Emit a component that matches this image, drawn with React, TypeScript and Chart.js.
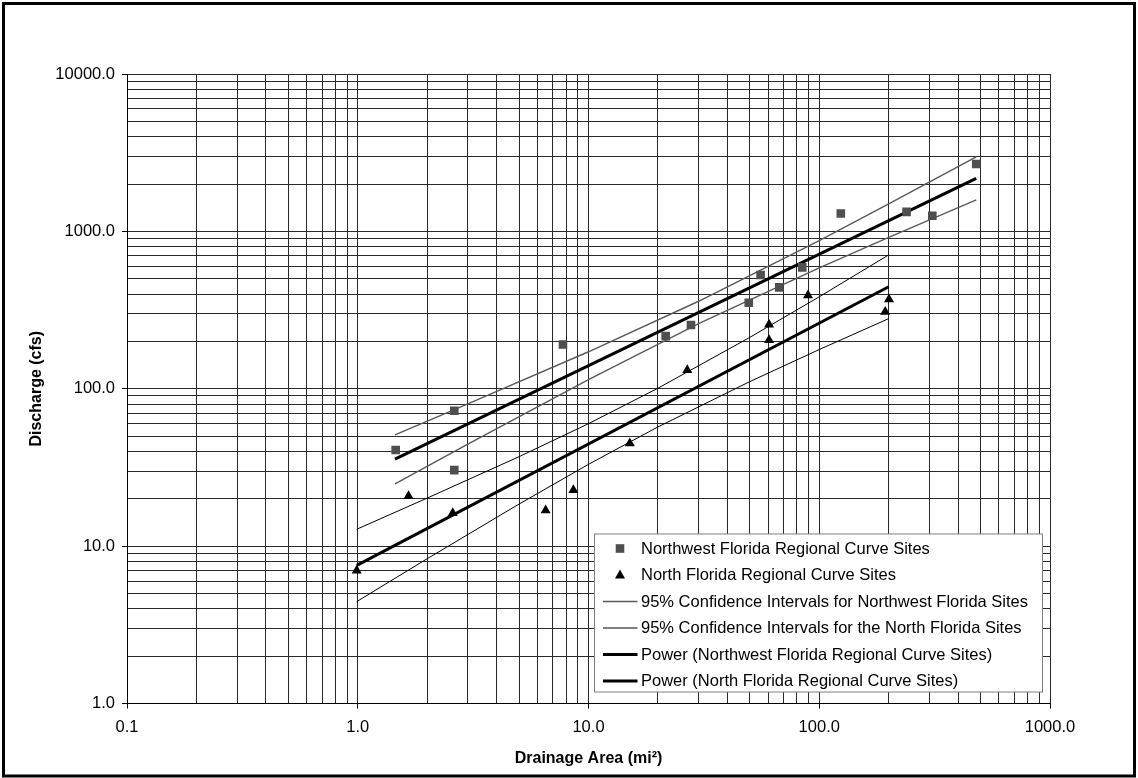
import React, { useEffect, useRef } from 'react';
import { Chart, registerables } from 'chart.js';

Chart.register(...registerables);

// ---- Data ----
const nwArea = [1.46, 2.62, 2.62, 7.75, 21.6, 27.8, 49.5, 55.7, 67.1, 84.4, 124, 239, 309, 479];
const nwDischarge = [40.8, 72.5, 30.4, 191, 216, 254, 352, 528, 441, 591, 1300, 1330, 1256, 2680];

const nfArea = [0.99, 1.66, 2.58, 6.52, 8.6, 15.1, 26.8, 60.6, 60.6, 89.4, 193, 200.6];
const nfDischarge = [7.0, 20.8, 16.2, 16.9, 22.7, 45.0, 131.5, 256, 204, 392, 308, 370];

const nwPowerArea = [1.45, 479];
const nwPowerQ = [35.7, 2173];
const nfPowerArea = [0.99, 200];
const nfPowerQ = [7.55, 445];

const nwCiArea = [1.45, 3, 10, 30, 100, 200, 479];
const nwCiUpper = [50.9, 80.1, 171.8, 359.7, 873, 1494, 2979];
const nwCiLower = [24.9, 44.5, 114.2, 258.9, 587, 917, 1585];

const nfCiArea = [0.99, 2, 5, 10, 20, 50, 100, 200];
const nfCiUpper = [12.8, 20.2, 37.0, 60.0, 100.8, 212, 384, 709];
const nfCiLower = [4.44, 8.32, 18.5, 33.1, 57.2, 111, 177.5, 279];

const xDecades = [0.1, 1, 10, 100, 1000];
const xTickLabels = ['0.1', '1.0', '10.0', '100.0', '1000.0'];
const yDecades = [1, 10, 100, 1000, 10000];
const yTickLabels = ['1.0', '10.0', '100.0', '1000.0', '10000.0'];
const minorSteps = [1, 2, 3, 4, 5, 6, 7, 8, 9];

const legendLabels = [
  'Northwest Florida Regional Curve Sites',
  'North Florida Regional Curve Sites',
  '95% Confidence Intervals for Northwest Florida Sites',
  '95% Confidence Intervals for the North Florida Sites',
  'Power (Northwest Florida Regional Curve Sites)',
  'Power (North Florida Regional Curve Sites)',
];

const FONT = '"Liberation Sans", Arial, sans-serif';
const GRID = '#2a2a2a';
const SQUARE = '#4f4f4f';
const NW_CI = '#5a5a5a';

const pts = (xs: number[], ys: number[]) => xs.map((x, i) => ({ x, y: ys[i] }));

const buildTicks = (decades: number[]) => {
  const out: number[] = [];
  for (let i = 0; i < decades.length - 1; i++) {
    for (const m of minorSteps) out.push(decades[i] * m);
  }
  out.push(decades[decades.length - 1]);
  return out;
};

const decadeIndex = (v: number, decades: number[]) =>
  decades.findIndex((d) => Math.abs(Math.log10(v) - Math.log10(d)) < 1e-6);

const backgroundPlugin = {
  id: 'bgBorder',
  beforeDraw(chart: any) {
    const { ctx, width, height } = chart;
    ctx.save();
    ctx.fillStyle = '#fff';
    ctx.fillRect(0, 0, width, height);
    ctx.restore();
  },
  afterDraw(chart: any) {
    const { ctx, width, height } = chart;
    ctx.save();
    ctx.strokeStyle = '#000';
    ctx.lineWidth = 3;
    ctx.strokeRect(3.5, 3.5, width - 7, height - 5.5);
    ctx.restore();
  },
};

const legendPlugin = {
  id: 'insideLegend',
  afterDatasetsDraw(chart: any) {
    const { ctx, chartArea } = chart;
    const left = chartArea.right - 455.5;
    const top = chartArea.bottom - 169.5;
    const w = 448;
    const h = 158;
    ctx.save();
    ctx.fillStyle = '#fff';
    ctx.fillRect(left, top, w, h);
    ctx.strokeStyle = '#808080';
    ctx.lineWidth = 1;
    ctx.strokeRect(left, top, w, h);

    const symX = left + 25.5;
    const lineX0 = left + 8.5;
    const lineX1 = left + 43;
    const textX = left + 46.5;
    ctx.font = `16.5px ${FONT}`;
    ctx.textBaseline = 'middle';
    ctx.textAlign = 'left';
    legendLabels.forEach((label, i) => {
      const y = top + 14.5 + i * 26.5;
      if (i === 0) {
        ctx.fillStyle = SQUARE;
        ctx.fillRect(symX - 4.3, y - 4.3, 8.6, 8.6);
      } else if (i === 1) {
        ctx.fillStyle = '#000';
        ctx.beginPath();
        ctx.moveTo(symX, y - 5.5);
        ctx.lineTo(symX + 5, y + 3.5);
        ctx.lineTo(symX - 5, y + 3.5);
        ctx.closePath();
        ctx.fill();
      } else {
        const ds = chart.data.datasets[i === 2 ? 2 : i === 3 ? 4 : i === 4 ? 6 : 7];
        ctx.strokeStyle = ds.borderColor;
        ctx.lineWidth = ds.borderWidth;
        ctx.beginPath();
        ctx.moveTo(lineX0, y);
        ctx.lineTo(lineX1, y);
        ctx.stroke();
      }
      ctx.fillStyle = '#000';
      ctx.fillText(label, textX, y + 0.5);
    });
    ctx.restore();
  },
};

export default function App() {
  const canvasRef = useRef<HTMLCanvasElement | null>(null);

  useEffect(() => {
    document.body.style.margin = '0';
    const canvas = canvasRef.current;
    if (!canvas) return;

    const lineDs = (label: string, xs: number[], ys: number[], color: string, width: number) => ({
      label,
      data: pts(xs, ys),
      showLine: true,
      pointRadius: 0,
      borderColor: color,
      backgroundColor: color,
      borderWidth: width,
      tension: 0,
      fill: false,
    });

    const chart = new Chart(canvas, {
      type: 'scatter',
      data: {
        datasets: [
          {
            label: legendLabels[0],
            data: pts(nwArea, nwDischarge),
            pointStyle: 'rect',
            pointRadius: 6.1,
            pointBackgroundColor: SQUARE,
            pointBorderWidth: 0,
            borderColor: SQUARE,
            backgroundColor: SQUARE,
          },
          {
            label: legendLabels[1],
            data: pts(nfArea, nfDischarge),
            pointStyle: 'triangle',
            pointRadius: 5.8,
            pointBackgroundColor: '#000',
            pointBorderWidth: 0,
            borderColor: '#000',
            backgroundColor: '#000',
          },
          lineDs(legendLabels[2], nwCiArea, nwCiUpper, NW_CI, 1.4),
          lineDs(legendLabels[2], nwCiArea, nwCiLower, NW_CI, 1.4),
          lineDs(legendLabels[3], nfCiArea, nfCiUpper, '#000', 1),
          lineDs(legendLabels[3], nfCiArea, nfCiLower, '#000', 1),
          lineDs(legendLabels[4], nwPowerArea, nwPowerQ, '#000', 3),
          lineDs(legendLabels[5], nfPowerArea, nfPowerQ, '#000', 3),
        ] as any,
      },
      options: {
        animation: false,
        responsive: true,
        maintainAspectRatio: false,
        events: [],
        layout: { padding: { top: 74, right: 88, left: 0, bottom: 0 } },
        plugins: {
          legend: { display: false },
          tooltip: { enabled: false },
        },
        scales: {
          x: {
            type: 'logarithmic',
            min: 0.1,
            max: 1000,
            afterFit: (s: any) => {
              s.height = 74.5;
            },
            afterBuildTicks: (s: any) => {
              s.ticks = buildTicks(xDecades).map((v) => ({ value: v }));
            },
            border: { display: true, color: '#000', width: 1 },
            grid: {
              color: GRID,
              lineWidth: 1,
              drawTicks: true,
              tickLength: 5,
              tickColor: (c: any) => (c.tick && decadeIndex(c.tick.value, xDecades) >= 0 ? '#000' : 'rgba(0,0,0,0)'),
            },
            ticks: {
              autoSkip: false,
              maxRotation: 0,
              minRotation: 0,
              padding: 9,
              color: '#000',
              font: { family: FONT, size: 16.5, lineHeight: 1.2 },
              callback: (v: any) => {
                const i = decadeIndex(Number(v), xDecades);
                return i >= 0 ? xTickLabels[i] : '';
              },
            },
            title: {
              display: true,
              text: 'Drainage Area (mi\u00B2)',
              color: '#000',
              font: { family: FONT, size: 16, weight: 'bold', lineHeight: 1.2 },
              padding: { top: 0, bottom: 9.5 },
            },
          },
          y: {
            type: 'logarithmic',
            min: 1,
            max: 10000,
            afterFit: (s: any) => {
              s.width = 127;
            },
            afterBuildTicks: (s: any) => {
              s.ticks = buildTicks(yDecades).map((v) => ({ value: v }));
            },
            border: { display: true, color: '#000', width: 1 },
            grid: {
              color: GRID,
              lineWidth: 1,
              drawTicks: true,
              tickLength: 5,
              tickColor: (c: any) => (c.tick && decadeIndex(c.tick.value, yDecades) >= 0 ? '#000' : 'rgba(0,0,0,0)'),
            },
            ticks: {
              autoSkip: false,
              padding: 7,
              color: '#000',
              font: { family: FONT, size: 16.5, lineHeight: 1.2 },
              callback: (v: any) => {
                const i = decadeIndex(Number(v), yDecades);
                return i >= 0 ? yTickLabels[i] : '';
              },
            },
            title: {
              display: true,
              text: 'Discharge (cfs)',
              color: '#000',
              font: { family: FONT, size: 16, weight: 'bold', lineHeight: 1.2 },
              padding: { top: 27, bottom: 0 },
            },
          },
        },
      } as any,
      plugins: [backgroundPlugin, legendPlugin],
    });

    return () => {
      chart.destroy();
    };
  }, []);

  return (
    <div style={{ position: 'relative', width: '1138px', height: '778px' }}>
      <canvas ref={canvasRef} />
    </div>
  );
}
